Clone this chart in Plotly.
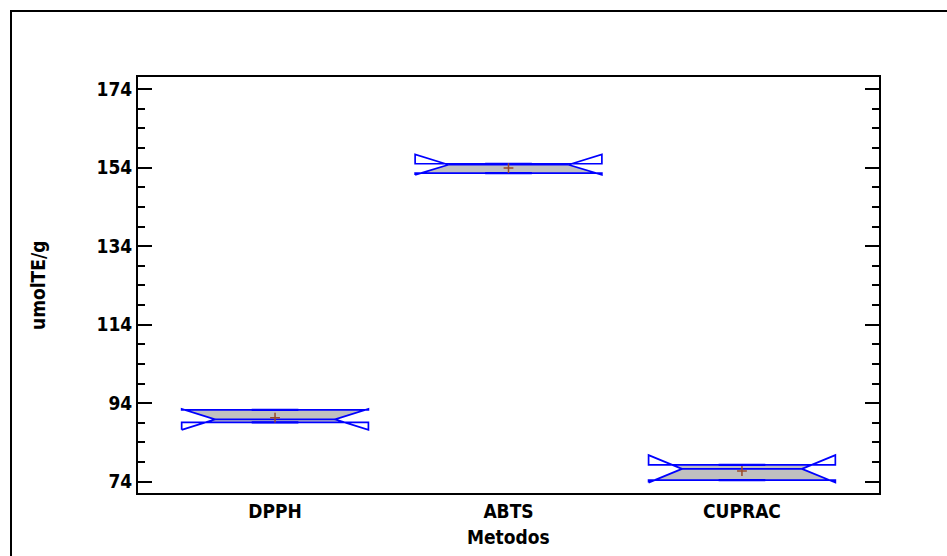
import plotly.graph_objects as go

# Notched box summaries per method (umolTE/g)
categories = ["DPPH", "ABTS", "CUPRAC"]
q1 = [89.1, 152.6, 74.4]
median = [89.85, 154.75, 77.25]
q3 = [92.3, 155.0, 78.25]
notch = [2.65, 2.6, 3.5]
mean = [90.3, 153.9, 76.7]

y_ticks = [74, 94, 114, 134, 154, 174]

HALF_W = 0.40      # half width of each box in category units
INDENT = 0.143     # horizontal depth of the notch
CAP_W = 0.10       # half width of the emphasised quartile segments

BLUE = "#0000ff"
GRAY = "#c0c0c0"
FONT = "DejaVu Sans Condensed, Liberation Sans Narrow, Arial Narrow, Liberation Sans, sans-serif"

fig = go.Figure()

for i, cat in enumerate(categories):
    c = i
    x0, x1 = c - HALF_W, c + HALF_W
    n0, n1 = x0 + INDENT, x1 - INDENT
    m = median[i]
    un, ln = m + notch[i], m - notch[i]
    lo, hi = q1[i], q3[i]

    # shaded part above the notch (between notch line and upper quartile)
    if un <= hi:
        up = [(x0, hi), (x0, un), (n0, m), (n1, m), (x1, un), (x1, hi)]
    else:
        t = INDENT * (un - hi) / (un - m)
        up = [(x0 + t, hi), (n0, m), (n1, m), (x1 - t, hi)]
    # shaded part below the notch (between notch line and lower quartile)
    if ln >= lo:
        dn = [(x0, lo), (x0, ln), (n0, m), (n1, m), (x1, ln), (x1, lo)]
    else:
        t = INDENT * (lo - ln) / (m - ln)
        dn = [(x0 + t, lo), (n0, m), (n1, m), (x1 - t, lo)]

    for poly in (up, dn):
        fig.add_trace(go.Scatter(
            x=[p[0] for p in poly] + [poly[0][0]],
            y=[p[1] for p in poly] + [poly[0][1]],
            mode="lines", fill="toself", fillcolor=GRAY,
            line=dict(width=0), hoverinfo="skip", showlegend=False))

    # notched outline plus median segment
    ox = [x0, n0, x0, x0, x1, x1, n1, x1, x1, x0, x0, None, n0, n1]
    oy = [ln, m, un, hi, hi, un, m, ln, lo, lo, ln, None, m, m]
    fig.add_trace(go.Scatter(x=ox, y=oy, mode="lines",
                             line=dict(color=BLUE, width=1.7),
                             hoverinfo="skip", showlegend=False))

    # slightly heavier central segments on the quartile lines
    fig.add_trace(go.Scatter(x=[c - CAP_W, c + CAP_W, None, c - CAP_W, c + CAP_W],
                             y=[lo, lo, None, hi, hi], mode="lines",
                             line=dict(color=BLUE, width=2.2),
                             hoverinfo="skip", showlegend=False))

# mean markers
fig.add_trace(go.Scatter(
    x=list(range(len(categories))), y=mean, mode="markers",
    marker=dict(symbol="cross-thin", size=7, line=dict(color="#9a4a2a", width=1.5)),
    hoverinfo="skip", showlegend=False))

fig.update_layout(
    width=947, height=556,
    margin=dict(l=138, r=68, t=77, b=63),
    paper_bgcolor="white", plot_bgcolor="white",
    font=dict(family=FONT, size=19, color="black"),
    showlegend=False,
    xaxis=dict(
        range=[-0.587, len(categories) - 1 + 0.587],
        tickmode="array", tickvals=list(range(len(categories))), ticktext=categories,
        ticks="", showgrid=False, zeroline=False,
        showline=True, linecolor="black", linewidth=2, mirror=True,
        tickfont=dict(family=FONT, size=19, color="black", weight="bold"),
    ),
    yaxis=dict(
        range=[71.1, 177.1],
        tickmode="array", tickvals=y_ticks, ticktext=[str(v) for v in y_ticks],
        ticks="inside", ticklen=14, tickwidth=1.5, tickcolor="black",
        minor=dict(tickmode="linear", tick0=74, dtick=5, ticks="inside",
                   ticklen=7, tickwidth=1.5, tickcolor="black", showgrid=False),
        showgrid=False, zeroline=False,
        showline=True, linecolor="black", linewidth=2, mirror="allticks",
        ticklabelstandoff=0,
        tickfont=dict(family=FONT, size=19, color="black", weight="bold"),
    ),
    annotations=[
        dict(text="<b>Metodos</b>", xref="paper", yref="paper",
             x=0.5, y=-0.106, xanchor="center", yanchor="middle",
             showarrow=False, font=dict(family=FONT, size=19)),
        dict(text="<b>umolTE/g</b>", xref="paper", yref="paper",
             x=-0.135, y=0.5, xanchor="center", yanchor="middle", textangle=-90,
             showarrow=False, font=dict(family=FONT, size=19)),
    ],
    shapes=[
        # outer page frame
        dict(type="rect", xref="paper", yref="paper",
             x0=(11 - 138) / 741, x1=(990 - 138) / 741,
             y0=(493 - 600) / 416, y1=(493 - 11) / 416,
             line=dict(color="black", width=2), fillcolor="rgba(0,0,0,0)",
             layer="below"),
    ],
)

fig.write_html("out.html")
